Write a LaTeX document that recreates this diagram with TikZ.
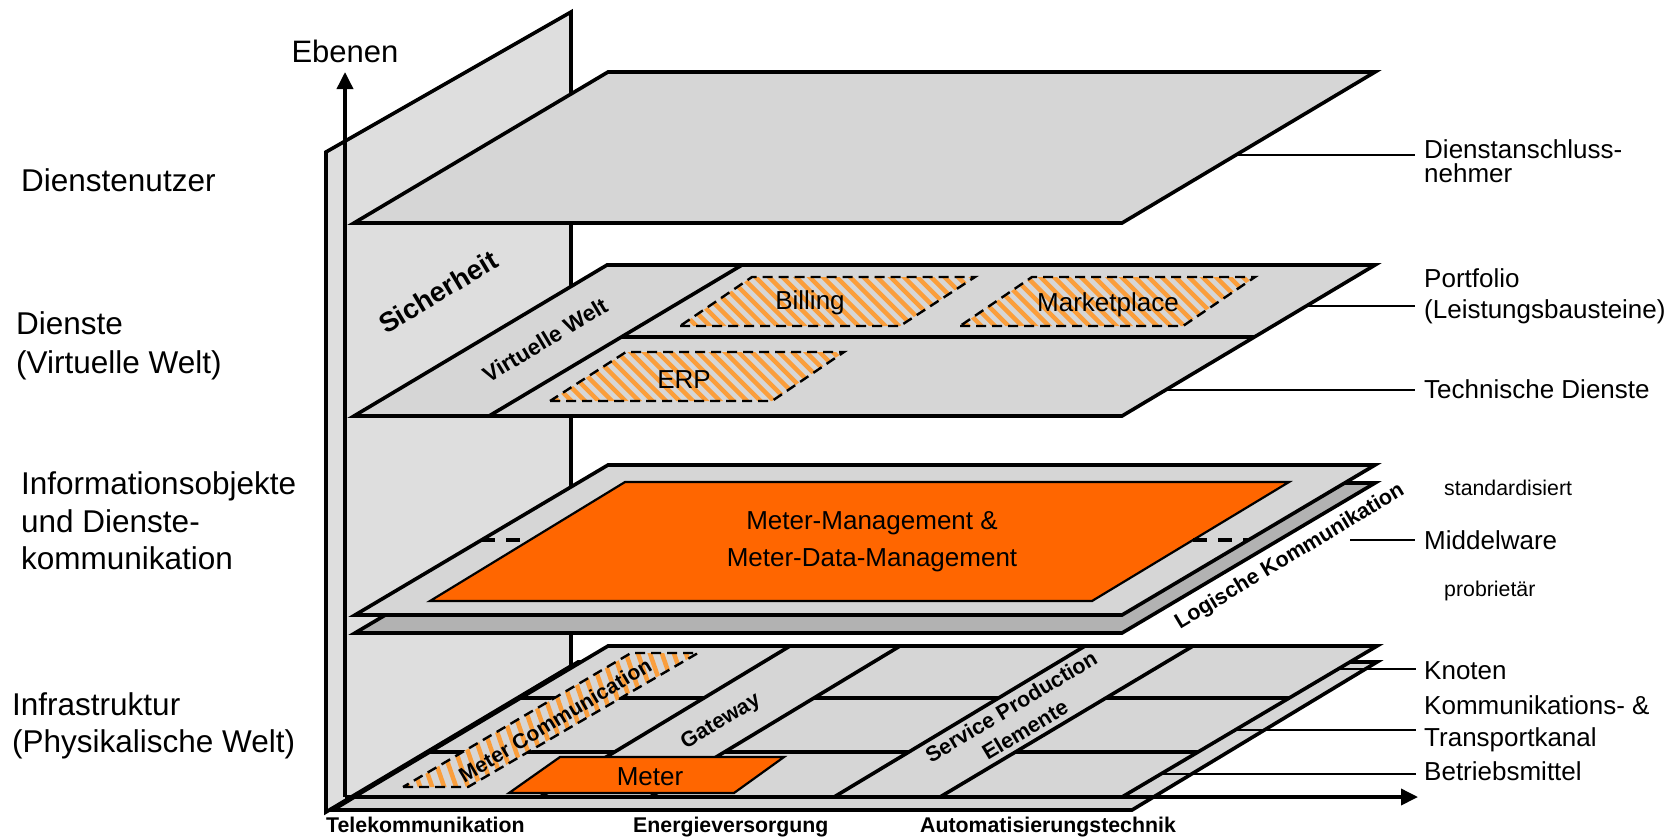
\documentclass[tikz,border=0pt]{standalone}
\usepackage{fontspec}
\setmainfont{Liberation Sans}
\usetikzlibrary{arrows.meta}

\definecolor{wallgray}{HTML}{DEDEDE}
\definecolor{planegray}{HTML}{D6D6D6}
\definecolor{darkplane}{HTML}{B2B2B2}
\definecolor{meterorange}{HTML}{FF6600}
\definecolor{hatchorange}{HTML}{FA9E3C}

\tikzset{
  outline/.style={draw=black, line width=3.6pt, line join=miter},
  wallface/.style={outline, fill=wallgray},
  planeface/.style={outline, fill=planegray},
  darkface/.style={outline, fill=darkplane},
  divider/.style={draw=black, line width=3.6pt},
  leader/.style={draw=black, line width=2pt},
  stripe/.style={draw=hatchorange, line width=4.5pt},
  dashedge/.style={draw=black, line width=2.4pt, dash pattern=on 10pt off 6pt},
  mwdash/.style={draw=black, line width=3.4pt, dash pattern=on 14pt off 11pt},
  orangeface/.style={fill=meterorange, draw=black, line width=2.2pt, line join=miter},
  axisarrow/.style={draw=black, line width=3.6pt, -{Triangle[length=17pt,width=16pt]}},
  leftlbl/.style={inner sep=0pt, anchor=base west, font=\fontsize{31.5}{38}\selectfont},
  rightlbl/.style={inner sep=0pt, anchor=base west, font=\fontsize{26}{31}\selectfont},
  smalllbl/.style={inner sep=0pt, anchor=base west, font=\fontsize{21.3}{26}\selectfont},
  boxlbl/.style={inner sep=0pt, anchor=base, font=\fontsize{26}{31}\selectfont},
  sectorlbl/.style={inner sep=0pt, anchor=base west, font=\fontsize{21.3}{26}\selectfont\bfseries},
  slantlbl/.style={inner sep=0pt, anchor=center, rotate=31, font=\fontsize{21.5}{27}\selectfont\bfseries},
}

\begin{document}
\begin{tikzpicture}[x=1pt,y=-1pt]
\useasboundingbox (0,0) rectangle (1680,839);

% back wall (Sicherheit)
\draw[wallface] (326,812) -- (326,152) -- (571,12) -- (571,666) -- cycle;

% top layer: service users
\draw[planeface] (354,223) -- (1122,223) -- (1375,72) -- (608,72) -- cycle;

% services layer
\draw[planeface] (354,416) -- (1122,416) -- (1375,265) -- (607,265) -- cycle;
\draw[divider] (489,416) -- (742,265);
\draw[divider] (621,337) -- (1254,337);

% hatched service blocks
\begin{scope}
  \clip (680,326) -- (900,326) -- (975,277) -- (752,277) -- cycle;
  \foreach \s in {0,...,32} \draw[stripe] ({600+13.5*\s},270) -- ++(62,62);
\end{scope}
\draw[dashedge] (680,326) -- (900,326) -- (975,277) -- (752,277) -- cycle;

\begin{scope}
  \clip (960,326) -- (1183,326) -- (1255,277) -- (1032,277) -- cycle;
  \foreach \s in {0,...,30} \draw[stripe] ({885+13.5*\s},270) -- ++(62,62);
\end{scope}
\draw[dashedge] (960,326) -- (1183,326) -- (1255,277) -- (1032,277) -- cycle;

\begin{scope}
  \clip (550,401) -- (772,401) -- (844,352) -- (626,352) -- cycle;
  \foreach \s in {0,...,30} \draw[stripe] ({475+13.5*\s},345) -- ++(62,62);
\end{scope}
\draw[dashedge] (550,401) -- (772,401) -- (844,352) -- (626,352) -- cycle;

% middleware layer (two sheets)
\draw[darkface] (355,633) -- (1122,633) -- (1375,483) -- (608,483) -- cycle;
\draw[planeface] (355,615) -- (1122,615) -- (1375,465) -- (608,465) -- cycle;
\draw[orangeface] (430,601) -- (1092,601) -- (1289,482) -- (625,482) -- cycle;
\draw[mwdash] (481,540) -- (530,540);
\draw[mwdash] (1193,540) -- (1248,540);

% infrastructure layer (two sheets)
\draw[planeface] (333,810) -- (1132,810) -- (1377,662) -- (578,662) -- cycle;
\draw[planeface] (354,797) -- (1122,797) -- (1377,646) -- (608,646) -- cycle;

% row dividers
\draw[divider] (520,698) -- (704,698);
\draw[divider] (814,698) -- (998,698);
\draw[divider] (1106,698) -- (1289,698);
\draw[divider] (430,752) -- (614,752);
\draw[divider] (725,752) -- (909,752);
\draw[divider] (1015,752) -- (1198,752);

% column strips
\draw[divider] (540,797) -- (790,646);
\draw[divider] (650,797) -- (900,646);
\draw[divider] (834,797) -- (1085,646);
\draw[divider] (940,797) -- (1193,646);

% meter communication (hatched)
\fill[planegray] (403,787) -- (468,787) -- (698,653) -- (631,653) -- cycle;
\begin{scope}
  \clip (403,787) -- (468,787) -- (698,653) -- (631,653) -- cycle;
  \foreach \s in {0,...,34} \draw[stripe] ({335+12*\s},645) -- ++(52,150);
\end{scope}
\draw[dashedge] (403,787) -- (468,787) -- (698,653) -- (631,653) -- cycle;

% meter
\draw[orangeface] (509,793) -- (734,793) -- (784,757) -- (560,757) -- cycle;

% axes
\coordinate (origin) at (345,797);
\coordinate (ytip) at (345,72);
\coordinate (xtip) at (1418,797);
\draw[axisarrow] (origin) -- (ytip);
\draw[axisarrow] (origin) -- (xtip);

% leader lines to the right-hand labels
\coordinate (dnA) at (1236,155);   \coordinate (dnB) at (1415,155);
\coordinate (pfA) at (1306,306);   \coordinate (pfB) at (1415,306);
\coordinate (tdA) at (1165,390);   \coordinate (tdB) at (1415,390);
\coordinate (mwA) at (1350,540);   \coordinate (mwB) at (1415,540);
\coordinate (knA) at (1338,669);   \coordinate (knB) at (1416,669);
\coordinate (ktA) at (1235,730);   \coordinate (ktB) at (1416,730);
\coordinate (bmA) at (1161,774);   \coordinate (bmB) at (1416,774);
\draw[leader] (dnA) -- (dnB);
\draw[leader] (pfA) -- (pfB);
\draw[leader] (tdA) -- (tdB);
\draw[leader] (mwA) -- (mwB);
\draw[leader] (knA) -- (knB);
\draw[leader] (ktA) -- (ktB);
\draw[leader] (bmA) -- (bmB);

% axis title
\node[inner sep=0pt, anchor=base, font=\fontsize{31}{37}\selectfont] (ebenen) at (345,62) {Ebenen};

% layer names on the left
\node[leftlbl] (nutzer) at (21,191) {Dienstenutzer};
\node[leftlbl] (diensteA) at (16,334) {Dienste};
\node[leftlbl] (diensteB) at (16,373) {(Virtuelle Welt)};
\node[leftlbl] (infoA) at (21,494) {Informationsobjekte};
\node[leftlbl] (infoB) at (21,532) {und Dienste-};
\node[leftlbl] (infoC) at (21,569) {kommunikation};
\node[leftlbl] (infraA) at (12,715) {Infrastruktur};
\node[leftlbl] (infraB) at (12,752) {(Physikalische Welt)};

% labels on the right
\node[rightlbl] (anschlA) at (1424,158) {Dienstanschluss-};
\node[rightlbl] (anschlB) at (1424,182) {nehmer};
\node[rightlbl] (portA) at (1424,287) {Portfolio};
\node[rightlbl] (portB) at (1424,318) {(Leistungsbausteine)};
\node[rightlbl] (techn) at (1424,398) {Technische Dienste};
\node[smalllbl] (stdis) at (1444,495) {standardisiert};
\node[rightlbl] (middel) at (1424,549) {Middelware};
\node[smalllbl] (propr) at (1444,596) {probrietär};
\node[rightlbl] (knoten) at (1424,679) {Knoten};
\node[rightlbl] (kommA) at (1424,714) {Kommunikations- \&};
\node[rightlbl] (kommB) at (1424,746) {Transportkanal};
\node[rightlbl] (betrieb) at (1424,780) {Betriebsmittel};

% block labels
\node[boxlbl] (billing) at (810,309) {Billing};
\node[boxlbl] (market) at (1108,311) {Marketplace};
\node[boxlbl] (erp) at (684,388) {ERP};
\node[boxlbl] (mdmA) at (872,529) {Meter-Management \&};
\node[boxlbl] (mdmB) at (872,566) {Meter-Data-Management};
\node[boxlbl] (meter) at (650,785) {Meter};

% slanted labels
\node[slantlbl, font=\fontsize{27.5}{33}\selectfont\bfseries] (sicher) at (438,292) {Sicherheit};
\node[slantlbl, font=\fontsize{22.4}{27}\selectfont\bfseries] (virtwelt) at (545,340) {Virtuelle Welt};
\node[slantlbl] (logkomm) at (1290,557) {Logische Kommunikation};
\node[slantlbl, font=\fontsize{21}{26}\selectfont\bfseries] (metercomm) at (555,720) {Meter Communication};
\node[slantlbl] (gateway) at (721,722) {Gateway};
\node[slantlbl, align=center] (servprod) at (1018,718) {Service Production\\Elemente};

% sector names along the horizontal axis
\node[sectorlbl] (telekom) at (326,832) {Telekommunikation};
\node[sectorlbl] (energie) at (633,832) {Energieversorgung};
\node[sectorlbl] (automat) at (920,832) {Automatisierungstechnik};

\end{tikzpicture}
\end{document}
